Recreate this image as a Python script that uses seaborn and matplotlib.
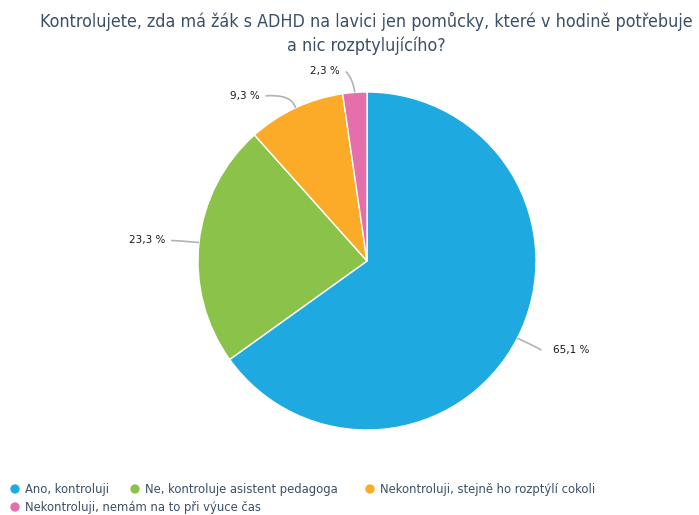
import matplotlib
matplotlib.use("Agg")
import matplotlib.pyplot as plt
from matplotlib.path import Path
from matplotlib.patches import PathPatch
import numpy as np
import seaborn as sns

sns.set_theme(style="white")
plt.rcParams['font.family'] = ['DejaVu Sans']

title = "Kontrolujete, zda má žák s ADHD na lavici jen pomůcky, které v hodině potřebuje\na nic rozptylujícího?"
categories = ["Ano, kontroluji", "Ne, kontroluje asistent pedagoga",
              "Nekontroluji, stejně ho rozptýlí cokoli", "Nekontroluji, nemám na to při výuce čas"]
values = [65.1, 23.3, 9.3, 2.3]
value_labels = ["65,1 %", "23,3 %", "9,3 %", "2,3 %"]
colors = ["#1fa9e1", "#8bc34a", "#fbab27", "#e46fab"]

W, H = 699, 515
fig = plt.figure(figsize=(W / 100, H / 100), dpi=100)
ax = fig.add_axes([0, 0, 1, 1])

cx, cy, R = 367, H - 261, 169
wedges, _ = ax.pie(values, colors=colors, startangle=90, counterclock=False,
                   center=(cx, cy), radius=R,
                   wedgeprops=dict(edgecolor="white", linewidth=1))
ax.set_xlim(0, W)
ax.set_ylim(0, H)
ax.set_aspect("equal")
ax.axis("off")

text_color = "#3b4f66"
line_color = "#b3b3b3"

# leader lines: (corner offset from wedge edge, end offset from wedge edge)
leaders = [((22, -10), (24, -12), "left"),
           ((-24, 2), (-28, 2), "right"),
           ((-4, 14), (-30, 12), "right"),
           ((-2, 14), (-9, 21), "right")]
for w, lab, (c_off, e_off, side) in zip(wedges, value_labels, leaders):
    mid = np.deg2rad((w.theta1 + w.theta2) / 2)
    px, py = cx + R * np.cos(mid), cy + R * np.sin(mid)
    c = (px + c_off[0], py + c_off[1])
    e = (px + e_off[0], py + e_off[1])
    path = Path([(px, py), c, e], [Path.MOVETO, Path.CURVE3, Path.CURVE3])
    ax.add_patch(PathPatch(path, fill=False, edgecolor=line_color, linewidth=1.2))
    if side == "left":
        ax.text(e[0] + 12, e[1], lab, ha="left", va="center", fontsize=7.5, color="#1a1a1a")
    else:
        ax.text(e[0] - 6, e[1], lab, ha="right", va="center", fontsize=7.5, color="#1a1a1a")

fig.text(366 / W, 1 - 12 / H, title, ha="center", va="top", fontsize=12.8,
         color=text_color, linespacing=1.4, fontstretch="condensed")

# legend entries laid out on two rows
legend_pos = [(15, 489), (135, 489), (370, 489), (15, 507)]
for (lx, ly), name, col in zip(legend_pos, categories, colors):
    ax.scatter([lx], [H - ly], s=45, color=col, edgecolor="none")
    ax.text(lx + 10, H - ly, name, ha="left", va="center", fontsize=9.3,
            color=text_color, fontstretch="condensed")

fig.savefig("out.png", dpi=100)
